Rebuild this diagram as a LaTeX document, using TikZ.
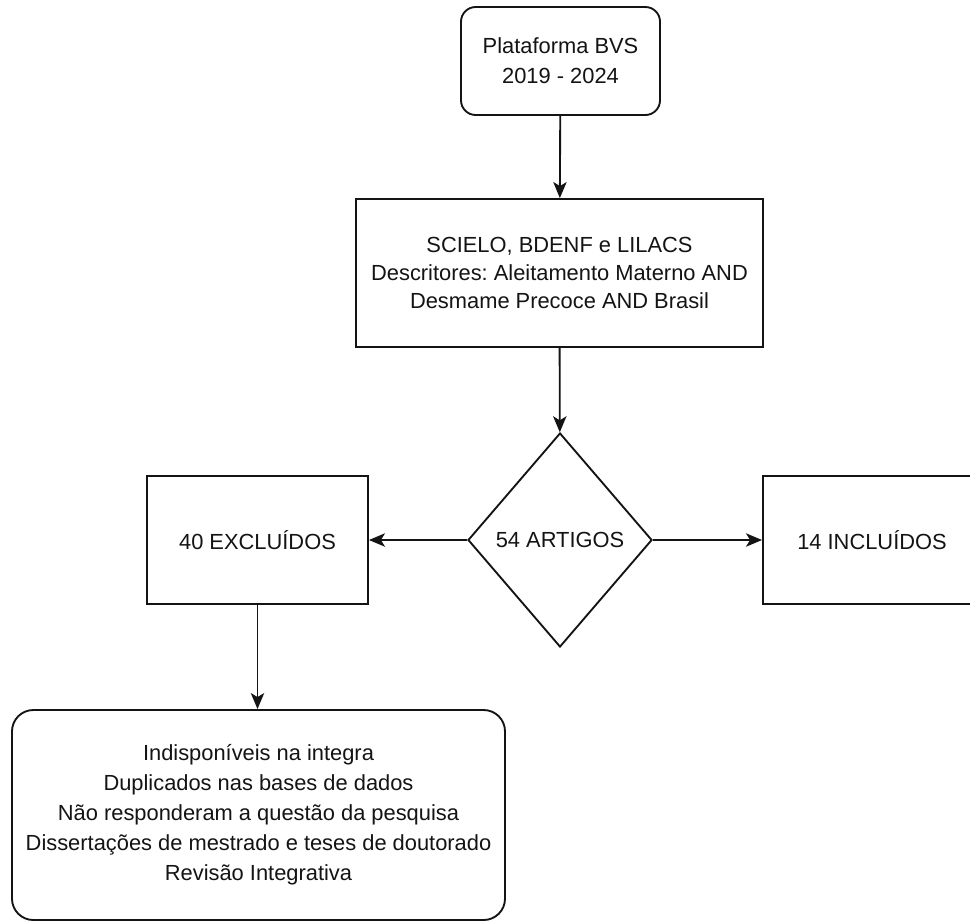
\documentclass[tikz,border=0pt]{standalone}
\usepackage{fontspec}
\setmainfont{Liberation Sans}
\frenchspacing
\usetikzlibrary{arrows.meta,shapes.geometric}
\definecolor{Ink}{HTML}{141414}
\tikzset{
  arr/.style={-{Stealth[length=12pt,width=10pt,inset=3pt]},line width=1.4pt,draw=Ink},
  boxstyle/.style={draw=Ink,line width=1.4pt,fill=white,text=Ink,align=center,inner sep=0pt},
  roundbox/.style={boxstyle,rounded corners=11pt},
  choicebox/.style={boxstyle,diamond}
}

\begin{document}
\begin{tikzpicture}[x=0.75pt,y=-0.75pt,font=\fontsize{16.4}{22.5}\selectfont]
  \useasboundingbox (0,0) rectangle (970,922);
  \node[roundbox,minimum width=149.25pt,minimum height=81pt] (plat) at (560.5,61) {Plataforma BVS\\2019 - 2024};
  \node[boxstyle,minimum width=305.25pt,minimum height=111pt,font=\fontsize{16.4}{20.8}\selectfont] (bases) at (559.5,273) {SCIELO, BDENF e LILACS\\Descritores: Aleitamento Materno AND\\Desmame Precoce AND Brasil};
  \node[choicebox,minimum width=138pt,minimum height=160.5pt] (art) at (560,540) {54 ARTIGOS};
  \node[boxstyle,minimum width=165.75pt,minimum height=96pt] (excl) at (257.5,540) {40 EXCLUÍDOS};
  \node[boxstyle,minimum width=163.5pt,minimum height=96pt] (incl) at (872,540) {14 INCLUÍDOS};
  \node[roundbox,rounded corners=16pt,minimum width=369.75pt,minimum height=157.5pt] (motivos) at (258.5,815) {Indisponíveis na integra\\Duplicados nas bases de dados\\Não responderam a questão da pesquisa\\Dissertações de mestrado e teses de doutorado\\Revisão Integrativa};
  \draw[arr] (plat)--(bases);\draw[arr] (bases)--(art);
  \draw[arr] (art)--(excl);\draw[arr] (art)--(incl);
  \draw[arr] (excl.south)--(excl.south |- motivos.north);
\end{tikzpicture}
\end{document}
